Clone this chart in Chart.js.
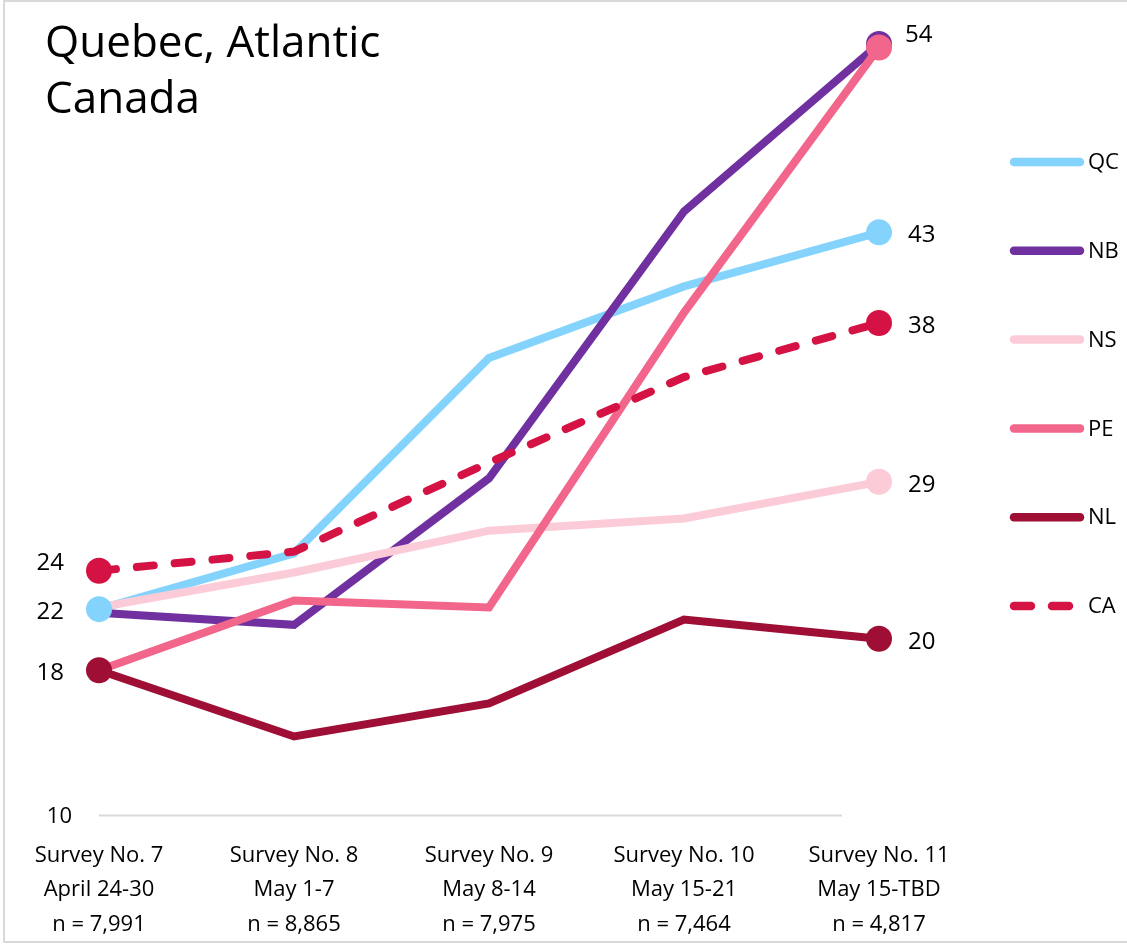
<!DOCTYPE html>
<html>
<head>
<meta charset="utf-8">
<script src="https://cdn.jsdelivr.net/npm/chart.js@4.4.1/dist/chart.umd.min.js"></script>
<style>
html,body{margin:0;padding:0;background:#fff;}
#wrap{width:1127px;height:945px;position:relative;}
canvas{display:block;}
</style>
</head>
<body>
<div id="wrap"><canvas id="c" width="1127" height="945"></canvas></div>
<script>
// ---------- DATA ----------
const titleLines = ['Quebec, Atlantic', 'Canada'];
const categories = [
  ['Survey No. 7', 'April 24-30', 'n = 7,991'],
  ['Survey No. 8', 'May 1-7', 'n = 8,865'],
  ['Survey No. 9', 'May 8-14', 'n = 7,975'],
  ['Survey No. 10', 'May 15-21', 'n = 7,464'],
  ['Survey No. 11', 'May 15-TBD', 'n = 4,817']
];
const seriesNames = ['QC', 'NB', 'NS', 'PE', 'NL', 'CA'];
const QC = [21.8, 25.0, 36.2, 40.3, 43.4];
const NB = [21.6, 20.9, 29.3, 44.6, 54.2];
const NS = [21.9, 23.9, 26.3, 27.0, 29.1];
const PE = [18.3, 22.3, 21.9, 38.8, 54.0];
const NL = [18.3, 14.5, 16.4, 21.2, 20.1];
const CA = [24.0, 25.1, 30.2, 35.1, 38.2];
const yTicks = [10];
const yMin = 10, yMax = 55;
// which points carry a marker / a value label
const markerIdx = { QC: [0, 4], NB: [4], NS: [4], PE: [4], NL: [0, 4], CA: [0, 4] };
const labelIdx  = { QC: [0, 4], NB: [],  NS: [4], PE: [4], NL: [0, 4], CA: [0, 4] };

// ---------- STYLE ----------
const FONT = '"Open Sans", "Noto Sans", sans-serif';
const colors = { QC: '#84d3fd', NB: '#7030a0', NS: '#fbcbd7', PE: '#f2668b', NL: '#9e0e35', CA: '#d41243' };
const dashes = { CA: [17, 21] };
const labelDy = { 'PE:4': -12, 'CA:0': -8 };
const values = { QC, NB, NS, PE, NL, CA };

const datasets = [];
seriesNames.forEach((name, i) => {
  datasets.push({
    label: name,
    data: values[name],
    borderColor: colors[name],
    backgroundColor: colors[name],
    borderWidth: 8,
    borderDash: dashes[name] || [],
    borderCapStyle: dashes[name] ? 'round' : 'butt',
    borderJoinStyle: 'miter',
    pointRadius: 0,
    pointHoverRadius: 0,
    tension: 0,
    order: 20 - i
  });
});
seriesNames.forEach((name, i) => {
  datasets.push({
    label: name + ' marker',
    data: values[name],
    showLine: false,
    backgroundColor: colors[name],
    borderColor: colors[name],
    borderWidth: 0,
    pointRadius: ctx => markerIdx[name].includes(ctx.dataIndex) ? 13 : 0,
    pointHoverRadius: ctx => markerIdx[name].includes(ctx.dataIndex) ? 13 : 0,
    order: 10 - i,
    isMarker: true,
    seriesName: name
  });
});

const decor = {
  id: 'decor',
  beforeDraw(chart) {
    const ctx = chart.ctx;
    ctx.save();
    ctx.fillStyle = '#fff';
    ctx.fillRect(0, 0, chart.width, chart.height);
    // frame
    ctx.strokeStyle = '#d9d9d9';
    ctx.lineWidth = 2;
    ctx.beginPath();
    ctx.moveTo(1130, 1); ctx.lineTo(4, 1); ctx.lineTo(4, 942); ctx.lineTo(1130, 942);
    ctx.stroke();
    // title
    ctx.fillStyle = '#000';
    ctx.font = '44px ' + FONT;
    ctx.textAlign = 'left';
    ctx.textBaseline = 'alphabetic';
    ctx.fillText(titleLines[0], 45, 57);
    ctx.fillText(titleLines[1], 45, 113);
    ctx.restore();
  },
  beforeDatasetsDraw(chart) {
    const ctx = chart.ctx, y = chart.scales.y, a = chart.chartArea;
    ctx.save();
    yTicks.forEach(t => {
      const py = Math.round(y.getPixelForValue(t)) + 0.5;
      ctx.strokeStyle = '#d9d9d9';
      ctx.lineWidth = 2;
      ctx.beginPath();
      ctx.moveTo(a.left, py); ctx.lineTo(a.right - 37, py);
      ctx.stroke();
      ctx.fillStyle = '#000';
      ctx.font = '22px ' + FONT;
      ctx.textAlign = 'right';
      ctx.textBaseline = 'middle';
      ctx.fillText(String(t), 72, py + 1);
    });
    ctx.restore();
  },
  afterDatasetsDraw(chart) {
    const ctx = chart.ctx;
    ctx.save();
    ctx.fillStyle = '#000';
    ctx.font = '24px ' + FONT;
    ctx.textBaseline = 'middle';
    chart.data.datasets.forEach((ds, di) => {
      if (!ds.isMarker) return;
      const meta = chart.getDatasetMeta(di);
      labelIdx[ds.seriesName].forEach(idx => {
        const el = meta.data[idx];
        const txt = String(Math.round(ds.data[idx]));
        const dy = labelDy[ds.seriesName + ':' + idx] !== undefined ? labelDy[ds.seriesName + ':' + idx] : 3;
        if (idx === 0) {
          ctx.textAlign = 'right';
          ctx.fillText(txt, el.x - 35, el.y + dy);
        } else {
          ctx.textAlign = 'left';
          ctx.fillText(txt, el.x + (dy < 0 ? 26 : 29), el.y + dy);
        }
      });
    });
    // legend
    const legendY0 = 162, legendStep = 88.8;
    seriesNames.forEach((name, i) => {
      const ly = legendY0 + i * legendStep;
      ctx.strokeStyle = colors[name];
      ctx.lineWidth = 8.5;
      ctx.lineCap = 'round';
      ctx.setLineDash(dashes[name] || []);
      ctx.beginPath();
      ctx.moveTo(1014, ly); ctx.lineTo(1080, ly);
      ctx.stroke();
      ctx.setLineDash([]);
      ctx.fillStyle = '#000';
      ctx.font = '22px ' + FONT;
      ctx.textAlign = 'left';
      ctx.textBaseline = 'middle';
      ctx.fillText(name, 1088, ly + 1);
    });
    ctx.restore();
  }
};

new Chart(document.getElementById('c'), {
  type: 'line',
  data: { labels: categories, datasets },
  options: {
    responsive: false,
    animation: false,
    devicePixelRatio: 1,
    layout: { padding: { left: 99, right: 248, top: 30, bottom: 0 } },
    plugins: { legend: { display: false }, tooltip: { enabled: false }, title: { display: false } },
    scales: {
      x: {
        type: 'category',
        grid: { display: false, drawTicks: false },
        border: { display: false },
        ticks: {
          color: '#000',
          font: { family: FONT, size: 22, lineHeight: 1.55 },
          padding: 24,
          maxRotation: 0,
          minRotation: 0,
          autoSkip: false
        },
        afterFit(scale) { scale.height = 130; }
      },
      y: { display: false, min: yMin, max: yMax }
    }
  },
  plugins: [decor]
});
</script>
</body>
</html>
